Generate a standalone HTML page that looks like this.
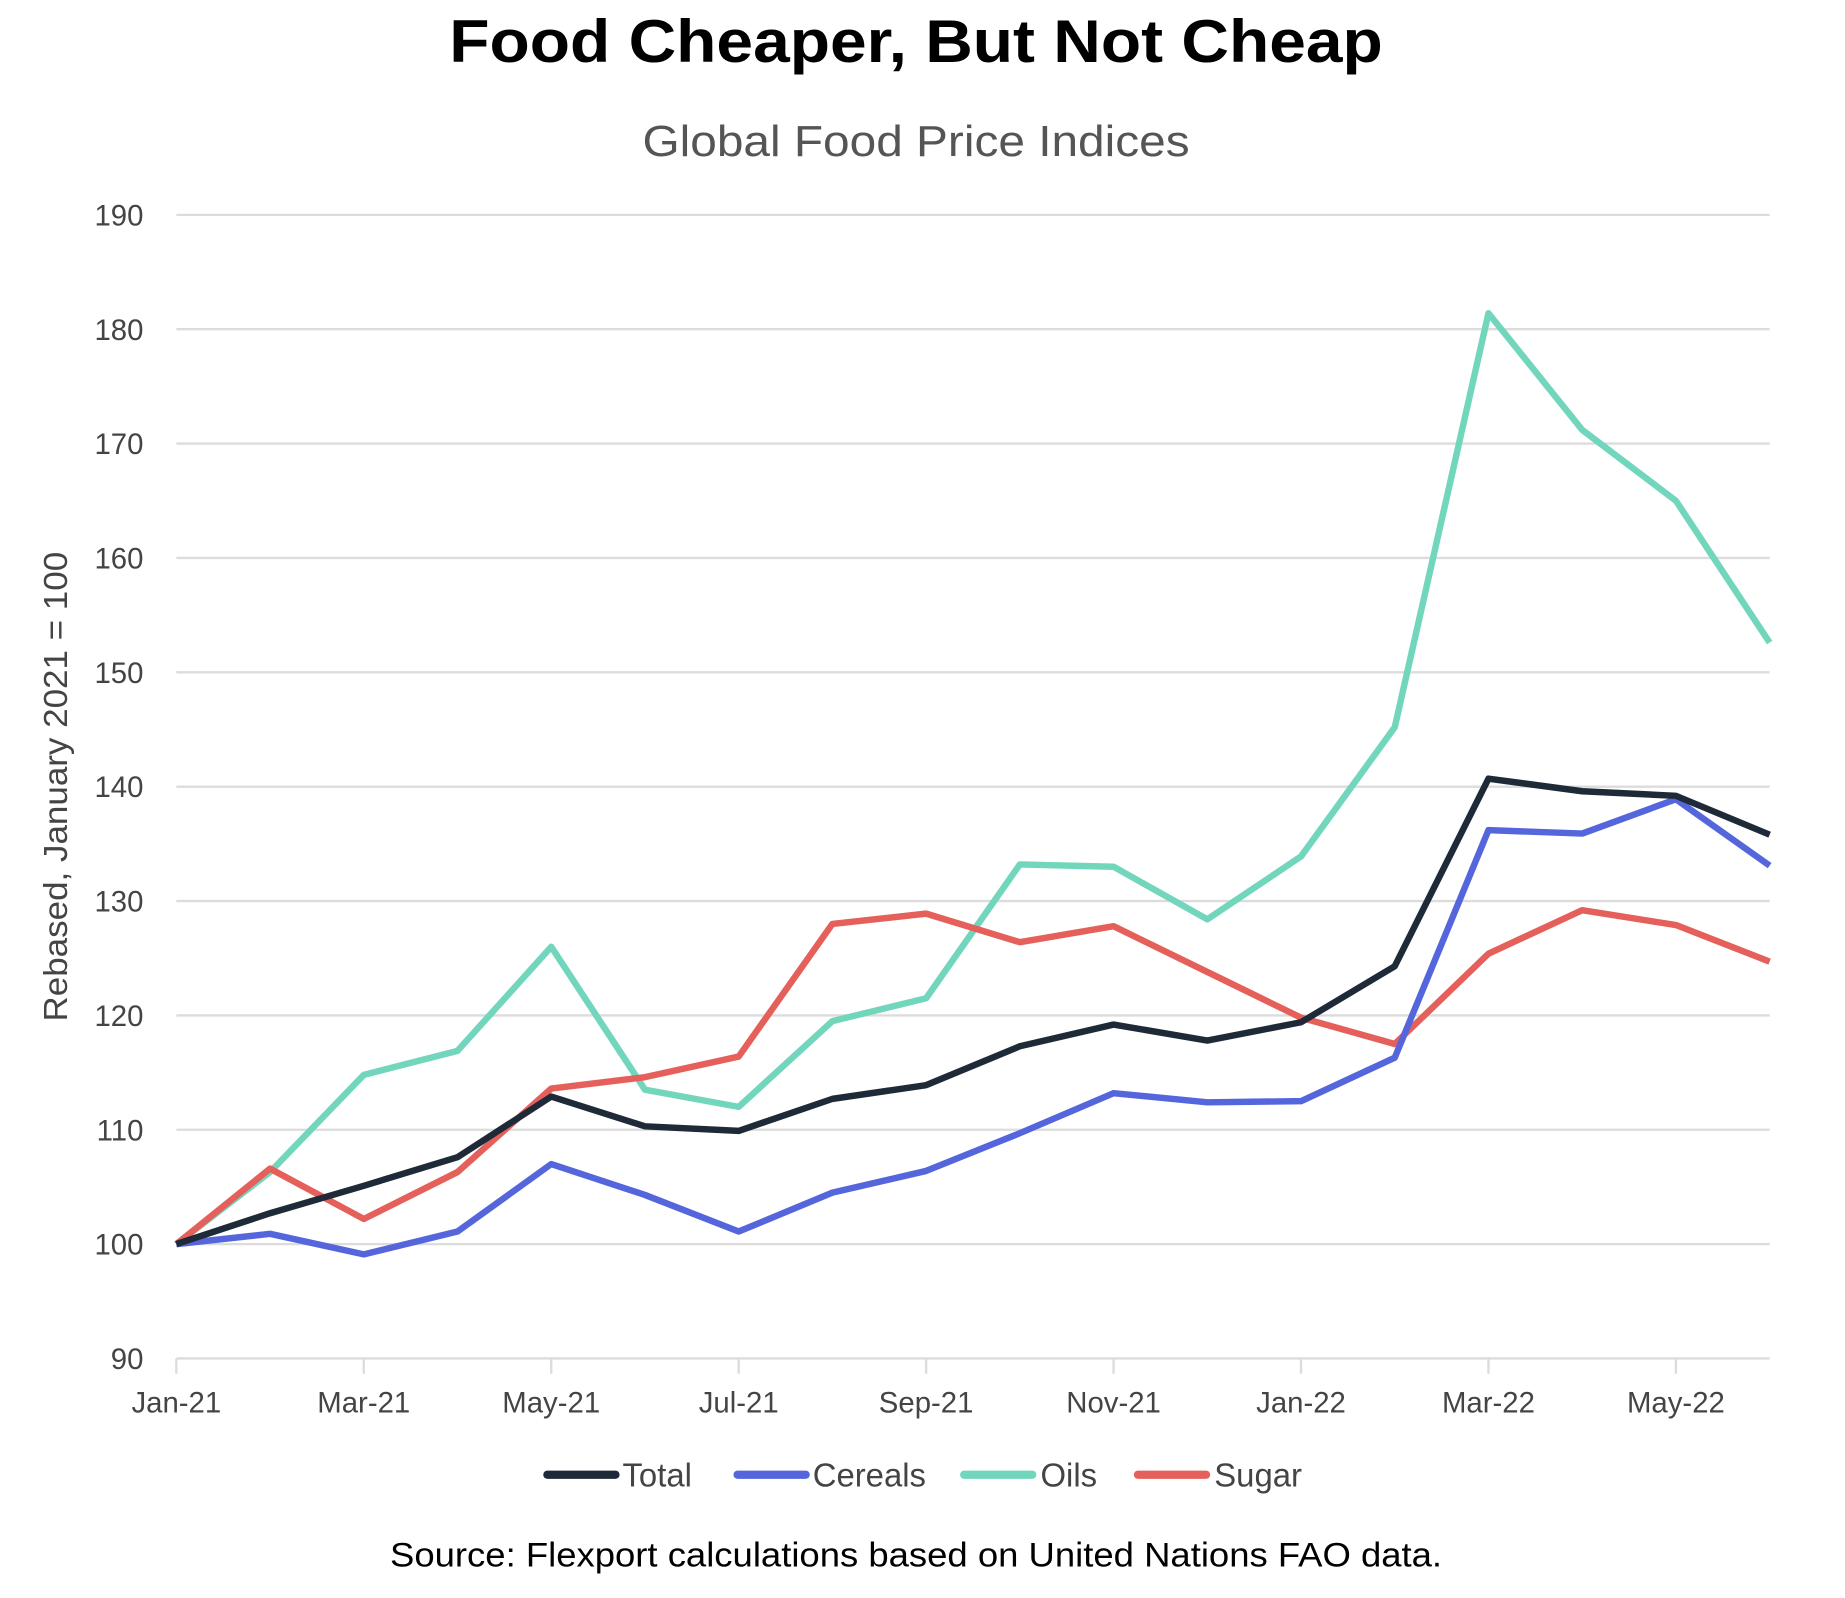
<!DOCTYPE html>
<html><head><meta charset="utf-8"><style>
html,body{margin:0;padding:0;background:#fff;}
svg{display:block;}
text{font-family:"Liberation Sans",sans-serif;}
</style></head><body>
<svg id="chart" width="1845" height="1598" viewBox="0 0 1571 1361" xmlns="http://www.w3.org/2000/svg">
<text x="780" y="53" text-anchor="middle" font-size="51" font-weight="bold" fill="#000" textLength="795" lengthAdjust="spacingAndGlyphs">Food Cheaper, But Not Cheap</text>
<text x="780" y="133" text-anchor="middle" font-size="37" fill="#555" textLength="466" lengthAdjust="spacingAndGlyphs">Global Food Price Indices</text>
<text transform="translate(57,670) rotate(-90)" text-anchor="middle" font-size="28" fill="#444" textLength="400" lengthAdjust="spacingAndGlyphs">Rebased, January 2021 = 100</text>
<g id="grid"></g><g id="xaxis"></g><g id="series"></g>
<g font-size="28" fill="#444">
<line x1="466" y1="1256" x2="524" y2="1256" stroke="#1e2a38" stroke-width="7" stroke-linecap="round"/>
<text x="530" y="1266">Total</text>
<line x1="628" y1="1256" x2="686" y2="1256" stroke="#5566dd" stroke-width="7" stroke-linecap="round"/>
<text x="692" y="1266">Cereals</text>
<line x1="821" y1="1256" x2="879" y2="1256" stroke="#72d6bd" stroke-width="7" stroke-linecap="round"/>
<text x="886" y="1266">Oils</text>
<line x1="969" y1="1256" x2="1027" y2="1256" stroke="#e5605a" stroke-width="7" stroke-linecap="round"/>
<text x="1034" y="1266">Sugar</text>
</g>
<text x="780" y="1334" text-anchor="middle" font-size="29" fill="#000" textLength="896" lengthAdjust="spacingAndGlyphs">Source: Flexport calculations based on United Nations FAO data.</text>
</svg>
<script>
const months = ["Jan-21","Feb-21","Mar-21","Apr-21","May-21","Jun-21","Jul-21","Aug-21","Sep-21","Oct-21","Nov-21","Dec-21","Jan-22","Feb-22","Mar-22","Apr-22","May-22","Jun-22"];
const yTicks = [90,100,110,120,130,140,150,160,170,180,190];
const total = [100,102.7,105.1,107.6,112.9,110.3,109.9,112.7,113.9,117.3,119.2,117.8,119.4,124.3,140.7,139.6,139.2,135.8];
const cereals = [100,100.9,99.1,101.1,107.0,104.3,101.1,104.5,106.4,109.7,113.2,112.4,112.5,116.3,136.2,135.9,138.9,133.1];
const oils = [100,106.3,114.8,116.9,126.0,113.5,112.0,119.5,121.5,133.2,133.0,128.4,133.9,145.2,181.4,171.2,165.0,152.6];
const sugar = [100,106.6,102.2,106.3,113.6,114.6,116.4,128.0,128.9,126.4,127.8,123.8,119.8,117.5,125.4,129.2,127.9,124.7];

const NS="http://www.w3.org/2000/svg";
const x0=150, x1=1507, xStep=(x1-x0)/(months.length-1);
const xs=i=>x0+i*xStep;
const ys=v=>1157-(v-90)*(1157-183)/100;
function mk(tag,attrs,parent){const e=document.createElementNS(NS,tag);for(const k in attrs)e.setAttribute(k,attrs[k]);parent.appendChild(e);return e;}
const grid=document.getElementById('grid');
yTicks.forEach(t=>{
  const l=mk('line',{x1:x0,x2:x1,y1:ys(t),y2:ys(t),stroke:'#dcdcdc','stroke-width':2},grid);
  
  
  const tx=mk('text',{x:122,y:ys(t)+9,'text-anchor':'end','font-size':25,fill:'#444'},grid);
  tx.textContent=t;
  
  
});
const xa=document.getElementById('xaxis');
months.forEach((m,i)=>{
  if(i%2) return;
  const tk=mk('line',{x1:xs(i),x2:xs(i),y1:1157,y2:1170,stroke:'#dcdcdc','stroke-width':2},xa);
  
  
  const tx=mk('text',{x:xs(i),y:1203,'text-anchor':'middle','font-size':25,fill:'#444'},xa);
  tx.textContent=m;
  
  
});
const sg=document.getElementById('series');
[["oils",oils,"#72d6bd"],["sugar",sugar,"#e5605a"],["cereals",cereals,"#5566dd"],["total",total,"#1e2a38"]].forEach(([n,d,c])=>{
  const p=mk('polyline',{points:d.map((v,i)=>xs(i)+','+ys(v)).join(' '),fill:'none',stroke:c,'stroke-width':5.5,'stroke-linejoin':'round'},sg);
  
  
});
</script>
</body></html>
